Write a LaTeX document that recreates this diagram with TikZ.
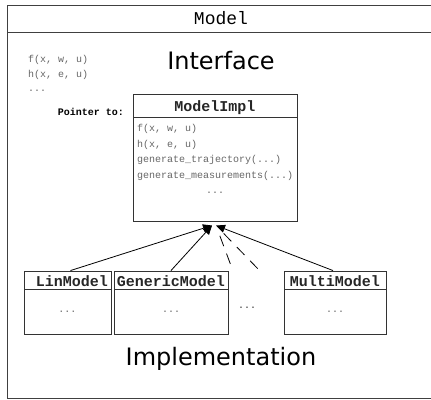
\documentclass[tikz,border=0pt]{standalone}
\usepackage{fontspec}
\setmainfont{DejaVu Sans}
\setmonofont{Liberation Mono}
\usetikzlibrary{arrows.meta, positioning, calc}

\tikzset{
  frameline/.style={line width=1pt, black!75},
  classbox/.style={draw, line width=0.9pt, black!80, inner sep=0pt},
  classname/.style={font=\ttfamily\bfseries\fontsize{15}{15}\selectfont, text=black!85, anchor=base},
  member/.style={font=\ttfamily\fontsize{10}{10}\selectfont, text=black!60, anchor=west, inner sep=0pt},
  bigword/.style={font=\fontsize{24}{24}\selectfont, anchor=base},
  inherit/.style={-{Triangle[length=9pt,width=8pt]}, line width=0.8pt},
  guess/.style={line width=0.8pt, dash pattern=on 11pt off 8pt},
}

\begin{document}
\begin{tikzpicture}[x=1pt, y=-1pt, >=Stealth]
  \useasboundingbox (0,0) rectangle (431,399);
  % Outer frame, its right side runs off the picture
  \draw[frameline] (431,5) -- (7,5) -- (7,398) -- (431,398);
  \draw[frameline] (7,32) -- (431,32);
  \node[font=\ttfamily\fontsize{18}{18}\selectfont, anchor=base] (title) at (221,24) {Model};
  \node[bigword] (iface) at (221,69) {Interface};
  \node[bigword] (impl) at (221,365) {Implementation};
  % Interface functions
  \node[member] (ifF) at (28,60) {f(x, w, u)};
  \node[member] (ifH) at (28,75) {h(x, e, u)};
  \node[member] (ifDots) at (28,91) {...};
  \node[member, text=black, anchor=east] (pointer) at (124,112) {\bfseries Pointer to:};
  % ModelImpl box
  \node[classbox, minimum width=164pt, minimum height=127pt] (mimpl) at (215,157.5) {};
  \draw[classbox] (133,117) -- (297,117);
  \node[classname] (mimplName) at (215,111) {ModelImpl};
  \node[member] (mF) at (137,129) {f(x, w, u)};
  \node[member] (mH) at (137,145) {h(x, e, u)};
  \node[member] (mTraj) at (137,160) {generate\_trajectory(...)};
  \node[member] (mMeas) at (137,176) {generate\_measurements(...)};
  \node[member, anchor=center] (mDots) at (215,193) {...};
  % Implementations
  \node[classbox, minimum width=87pt, minimum height=63pt] (lin) at (67.5,302.5) {};
  \node[classbox, minimum width=114pt, minimum height=63pt] (generic) at (171,302.5) {};
  \node[classbox, minimum width=102pt, minimum height=63pt] (multi) at (335,302.5) {};
  \draw[classbox] (24,289) -- (111,289);
  \draw[classbox] (114,289) -- (228,289);
  \draw[classbox] (284,289) -- (386,289);
  \node[classname] (linName) at (72,286) {LinModel};
  \node[classname] (genericName) at (171,286) {GenericModel};
  \node[classname] (multiName) at (335,286) {MultiModel};
  \node[member, anchor=center] (linDots) at (67.5,312) {...};
  \node[member, anchor=center] (genericDots) at (171,312) {...};
  \node[member, anchor=center] (multiDots) at (335,312) {...};
  \node[member, anchor=center, text=black!80] (moreDots) at (247,308) {...};
  % Arrows up to ModelImpl
  \coordinate (tipL) at (212,225.5);
  \coordinate (tipR) at (216,225.5);
  \coordinate (moreA) at (233,271);
  \coordinate (moreB) at (260,271);
  \draw[inherit] ([xshift=3pt]lin.north) -- (tipL);
  \draw[inherit] (generic.north) -- (tipL);
  \draw[inherit] ([xshift=-2pt]multi.north) -- (tipR);
  \draw[guess, shorten <=11pt] (tipR) -- (moreA);
  \draw[guess, shorten <=11pt] (tipR) -- (moreB);
\end{tikzpicture}
\end{document}
